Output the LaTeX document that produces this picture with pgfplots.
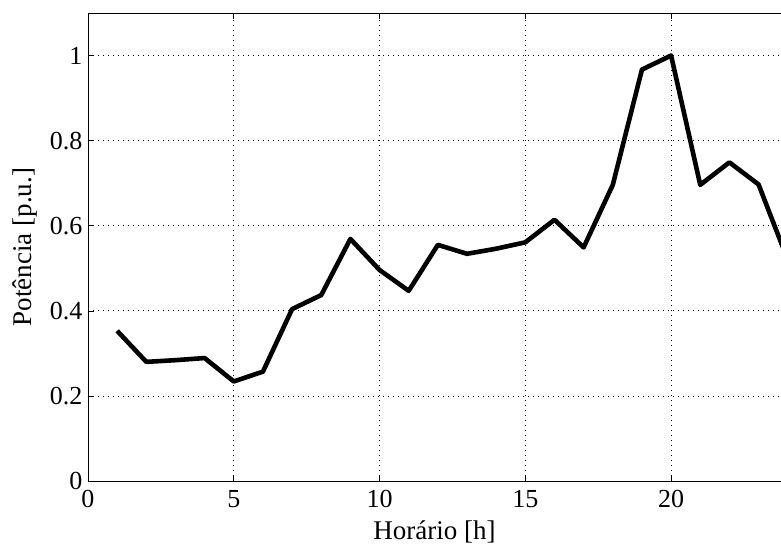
\documentclass[border=0pt]{standalone}
\usepackage{pgfplots}
\pgfplotsset{compat=1.18}
\usepackage{fontspec}
\setmainfont{Liberation Serif}
\begin{document}
\begin{tikzpicture}
\begin{axis}[
  name=ax,
  scale only axis,
  width=693pt, height=468pt,
  xmin=0, xmax=23.77, ymin=0, ymax=1.1,
  axis x line*=box, axis y line*=left,
  axis line style={-, line width=0.8pt},
  xtick={0,5,10,15,20}, ytick={0,0.2,0.4,0.6,0.8,1},
  tick align=inside, major tick length=6pt,
  tick style={black, line width=0.6pt},
  grid=major,
  major grid style={black, line width=0.7pt, dash pattern=on 0.7pt off 4.3pt},
  /pgf/number format/assume math mode=true,
  tick label style={font=\fontsize{26}{30}\selectfont},
  label style={font=\fontsize{27}{31}\selectfont},
  xticklabel style={yshift=-6pt},
  yticklabel style={xshift=-2pt},
  xlabel={Horário [h]}, ylabel={Potência [p.u.]},
  xlabel style={yshift=-6pt},
  ylabel style={yshift=6pt},
]
\addplot[black, line width=4.6pt, line join=round] coordinates {
(1,0.353) (2,0.280) (3,0.284) (4,0.289) (5,0.234) (6,0.257) (7,0.404) (8,0.437)
(9,0.569) (10,0.496) (11,0.447) (12,0.555) (13,0.534) (14,0.546) (15,0.561)
(16,0.614) (17,0.549) (18,0.696) (19,0.967) (20,1.0) (21,0.696) (22,0.749)
(23,0.697) (24,0.52)
};
\end{axis}
\pgfresetboundingbox
\path ([shift={(-88pt,-65pt)}]ax.south west) rectangle ([shift={(0pt,13pt)}]ax.north east);
\end{tikzpicture}
\end{document}
